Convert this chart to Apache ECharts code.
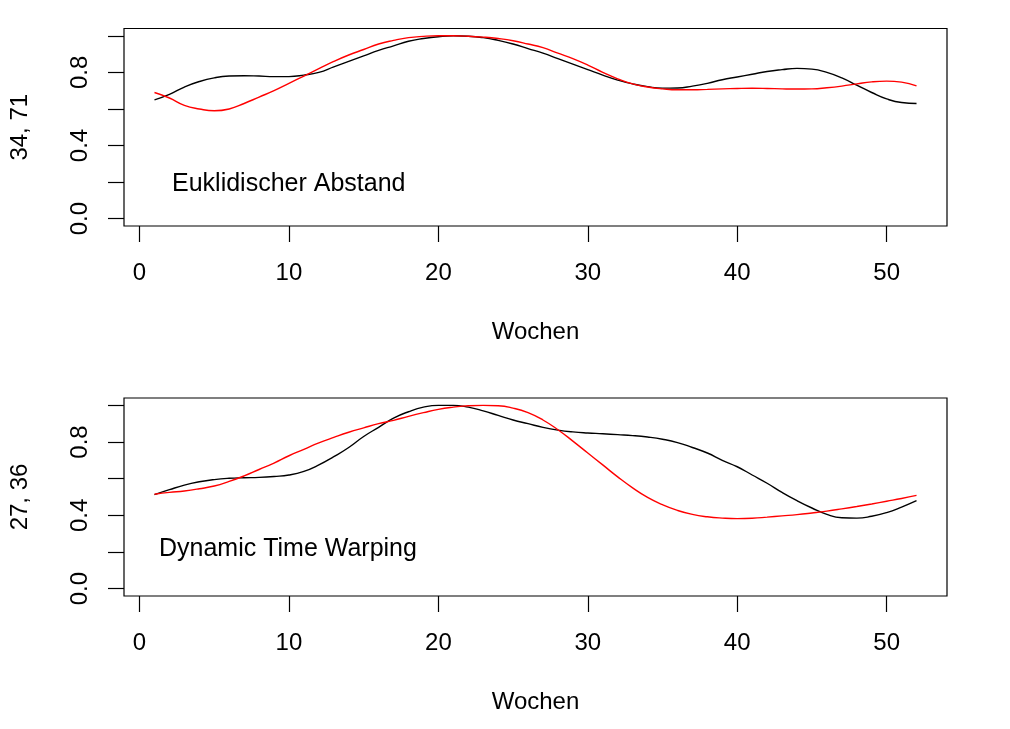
<!DOCTYPE html>
<html>
<head>
<meta charset="utf-8">
<script src="https://cdn.jsdelivr.net/npm/echarts@6/dist/echarts.min.js"></script>
<style>
html,body{margin:0;padding:0;background:#fff;}
#chart{width:1010px;height:729px;}
</style>
</head>
<body>
<div id="chart"></div>
<script>
var weeks = [];
for (var i = 1; i <= 52; i++) weeks.push(i);

var topBlack = [0.65,0.68,0.72,0.75,0.77,0.78,0.782,0.78,0.777,0.777,0.785,0.80,0.83,0.86,0.89,0.92,0.945,0.97,0.985,0.995,
  1.0,0.998,0.99,0.975,0.955,0.93,0.905,0.875,0.845,0.815,0.785,0.758,0.737,0.722,0.714,0.715,0.725,0.74,0.76,0.775,
  0.79,0.805,0.815,0.822,0.818,0.80,0.77,0.73,0.69,0.655,0.635,0.63];
var topRed = [0.69,0.66,0.62,0.60,0.59,0.60,0.63,0.665,0.70,0.74,0.78,0.82,0.86,0.895,0.925,0.955,0.975,0.99,0.997,1.0,
  1.0,0.998,0.993,0.985,0.973,0.955,0.935,0.905,0.875,0.84,0.80,0.765,0.737,0.72,0.71,0.705,0.705,0.707,0.71,0.712,
  0.713,0.712,0.71,0.709,0.71,0.716,0.725,0.737,0.748,0.752,0.747,0.726];
var botBlack = [0.513,0.54,0.565,0.583,0.595,0.602,0.605,0.607,0.612,0.62,0.64,0.675,0.72,0.77,0.83,0.88,0.93,0.965,0.99,1.0,
  1.0,0.99,0.97,0.945,0.92,0.90,0.88,0.865,0.855,0.849,0.845,0.84,0.835,0.827,0.815,0.797,0.77,0.74,0.70,0.665,
  0.62,0.575,0.525,0.48,0.44,0.405,0.387,0.385,0.395,0.415,0.445,0.48];
var botRed = [0.515,0.525,0.533,0.545,0.56,0.585,0.615,0.65,0.685,0.725,0.76,0.795,0.825,0.853,0.877,0.90,0.918,0.94,0.96,0.978,
  0.99,0.998,1.0,0.998,0.985,0.96,0.92,0.867,0.805,0.74,0.675,0.61,0.55,0.498,0.458,0.427,0.405,0.392,0.385,0.382,
  0.384,0.39,0.397,0.404,0.413,0.423,0.435,0.448,0.462,0.477,0.492,0.509];

var xTicks = [0,10,20,30,40,50];
var yTicks = [0,0.2,0.4,0.6,0.8,1.0];
var yLabels = [0,0.4,0.8];
var xName = 'Wochen';
var yNames = ['34, 71','27, 36'];
var panelTitles = ['Euklidischer Abstand','Dynamic Time Warping'];

var FONT = 'Liberation Sans, Arial, Helvetica, sans-serif';
var FS = 24;

function pairs(ys){ return weeks.map(function(w,i){ return [w, ys[i]]; }); }

function xAxis(idx){
  return {
    type:'value', gridIndex:idx, min:-1.04, max:54.04,
    name:xName, nameLocation:'middle', nameGap:94,
    nameTextStyle:{color:'#000', fontFamily:FONT, fontSize:FS},
    axisLine:{show:false, onZero:false},
    axisTick:{show:true, inside:false, length:16, customValues:xTicks, lineStyle:{color:'#000', width:1.2}},
    axisLabel:{show:true, margin:35, customValues:xTicks, color:'#000', fontFamily:FONT, fontSize:FS},
    splitLine:{show:false}
  };
}
function yAxis(idx){
  return {
    type:'value', gridIndex:idx, min:-0.04, max:1.04,
    name:yNames[idx], nameLocation:'middle', nameGap:92, nameRotate:90,
    nameTextStyle:{color:'#000', fontFamily:FONT, fontSize:FS},
    axisLine:{show:false, onZero:false},
    axisTick:{show:true, inside:false, length:16, customValues:yTicks, lineStyle:{color:'#000', width:1.2}},
    axisLabel:{show:true, margin:32, rotate:90, customValues:yLabels, color:'#000', fontFamily:FONT, fontSize:FS,
      formatter:function(v){ return Number(v).toFixed(1); }},
    splitLine:{show:false}
  };
}
function line(idx, data, color){
  return {type:'line', xAxisIndex:idx, yAxisIndex:idx, data:pairs(data), smooth:true, symbol:'none',
    lineStyle:{color:color, width:1.4}, silent:true, animation:false};
}

var chart = echarts.init(document.getElementById('chart'), null, {renderer:'canvas'});
chart.setOption({
  backgroundColor:'#fff',
  animation:false,
  title:[
    {text:panelTitles[0], left:172, top:172, textStyle:{color:'#000', fontFamily:FONT, fontSize:25, fontWeight:'normal'}, padding:0},
    {text:panelTitles[1], left:159, top:537, textStyle:{color:'#000', fontFamily:FONT, fontSize:25, fontWeight:'normal'}, padding:0}
  ],
  grid:[
    {left:123, top:28.5, width:824, height:197.5, show:true, borderColor:'#000', borderWidth:1.2, backgroundColor:'transparent'},
    {left:123, top:398, width:824, height:198, show:true, borderColor:'#000', borderWidth:1.2, backgroundColor:'transparent'}
  ],
  xAxis:[xAxis(0), xAxis(1)],
  yAxis:[yAxis(0), yAxis(1)],
  series:[
    line(0, topBlack, '#000000'),
    line(0, topRed, '#ff0000'),
    line(1, botBlack, '#000000'),
    line(1, botRed, '#ff0000')
  ]
});
</script>
</body>
</html>
